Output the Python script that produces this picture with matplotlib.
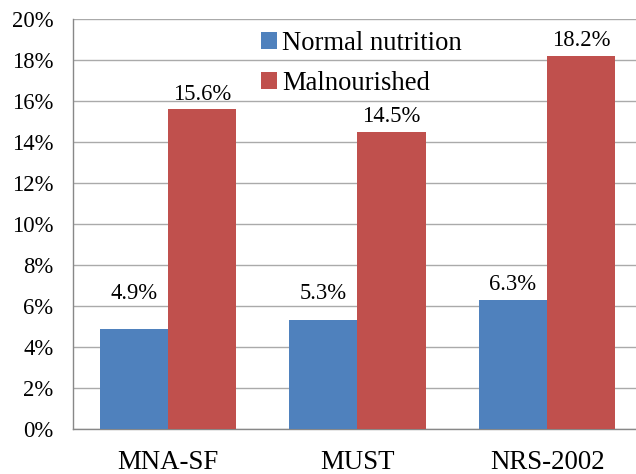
import numpy as np
import matplotlib.pyplot as plt
from matplotlib.ticker import FuncFormatter

categories = ["MNA-SF", "MUST", "NRS-2002"]
normal = [4.9, 5.3, 6.3]
malnourished = [15.6, 14.5, 18.2]
series_names = ["Normal nutrition", "Malnourished"]

plt.rcParams["font.family"] = ["Liberation Serif", "DejaVu Serif"]

fig = plt.figure(figsize=(6.36, 4.74), dpi=100)
ax = fig.add_axes([73 / 636, 45 / 474, 569 / 636, 410 / 474])

x = np.arange(len(categories))
w = 0.36
blue = "#4F81BD"
red = "#C0504D"
ax.bar(x - w / 2, normal, w, color=blue, label=series_names[0], zorder=3)
ax.bar(x + w / 2, malnourished, w, color=red, label=series_names[1], zorder=3)

for xi, v in zip(x - w / 2, normal):
    ax.text(xi, max(v, 5.9) + 0.73, f"{v:.1f}%", ha="center", va="center", fontsize=16.3)
for xi, v in zip(x + w / 2, malnourished):
    ax.text(xi, v + 0.73, f"{v:.1f}%", ha="center", va="center", fontsize=16.3)

ax.set_xlim(-0.5, 2.5)
ax.set_ylim(0, 20)
ax.set_yticks(np.arange(0, 21, 2))
ax.yaxis.set_major_formatter(FuncFormatter(lambda v, p: f"{v:.0f}%"))
ax.set_xticks(x)
ax.set_xticklabels(categories, fontsize=19.4)
ax.tick_params(axis="y", labelsize=16.3, length=0, pad=14)
ax.tick_params(axis="x", length=0, pad=15)
ax.grid(axis="y", color="#AAAAAA", linewidth=1, zorder=0)
ax.set_axisbelow(True)
for s in ["top", "right"]:
    ax.spines[s].set_visible(False)
for s in ["left", "bottom"]:
    ax.spines[s].set_color("#888888")
    ax.spines[s].set_linewidth(1)

ax.legend(loc="upper left", bbox_to_anchor=(0.302, 1.01), frameon=False, fontsize=19.2,
          handlelength=0.6, handleheight=0.6, handletextpad=0.2, labelspacing=0.55,
          borderaxespad=0.2)

fig.savefig("out.png", dpi=100)
